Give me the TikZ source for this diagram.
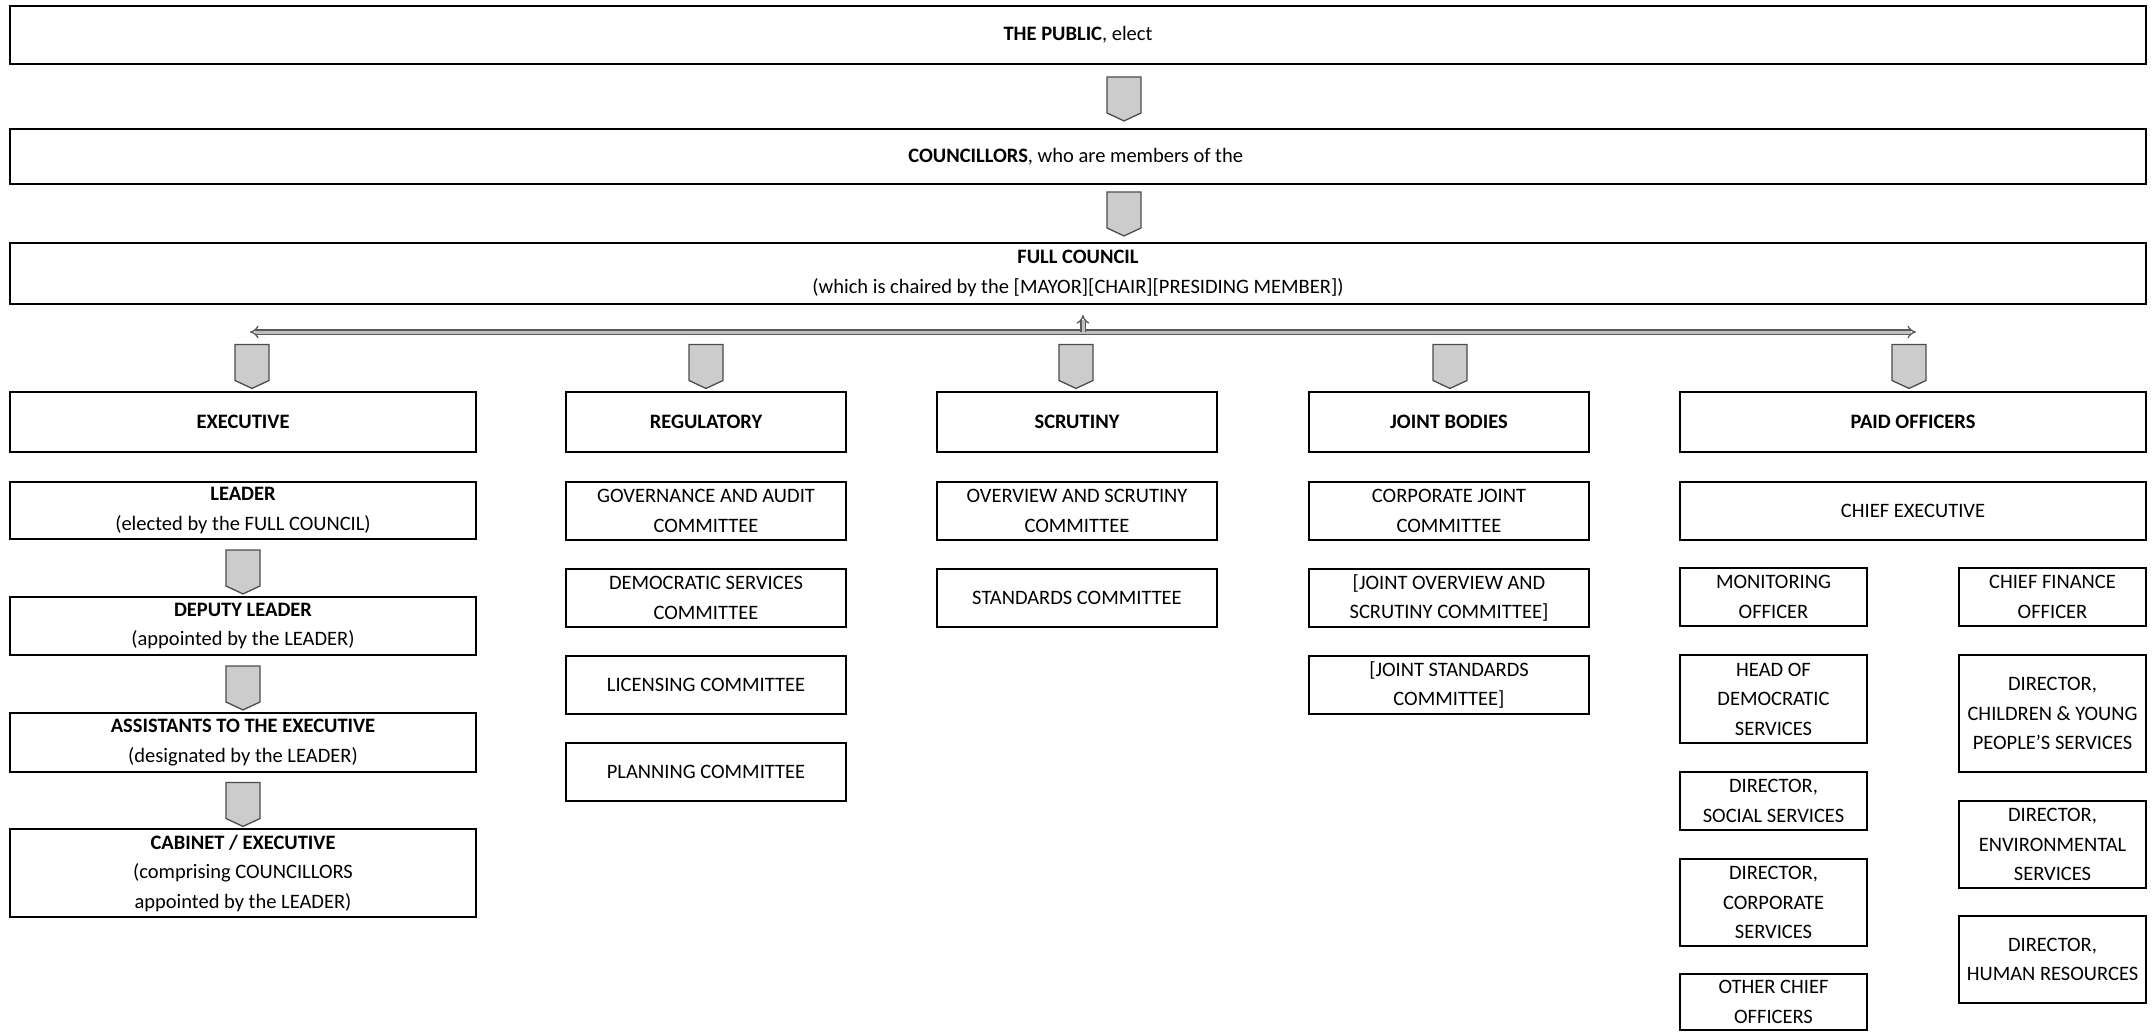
\documentclass[tikz,border=0pt]{standalone}
\usepackage{fontspec}
\setmainfont{Carlito}
\usetikzlibrary{arrows.meta, shapes.symbols, positioning, calc}

\begin{document}
\begin{tikzpicture}[
            x=1pt, y=-1pt,
                base/.style = {rectangle, draw=black, align=center, inner sep=2pt,
                            outer sep=0pt, font=\fontsize{20.5}{29.5}\selectfont},
                topbox/.style = {base, line width=2.6pt, minimum width=2136pt,
                            minimum height=58pt},
                headbox/.style = {base, line width=2.6pt, minimum height=60pt,
                            font=\fontsize{20.5}{29.5}\selectfont\bfseries},
                subbox/.style = {base, line width=1.4pt, minimum height=58pt},
                wide/.style = {minimum width=466pt},
                mid/.style = {minimum width=280pt},
                half/.style = {minimum width=187pt},
                chevron/.style = {signal, signal to=south, signal pointer angle=130,
                            draw=black!70, fill=black!20, line width=1.3pt,
                            minimum width=34pt, minimum height=36pt, inner sep=0pt},
                bus/.style = {draw=black!65, line width=1.3pt, double=black!25,
                            double distance=3pt},
            node distance=29pt]
            \useasboundingbox (0,0) rectangle (2154,1032);
            % top of the chain
            \node (public) [topbox] at (1078,35) {\textbf{THE PUBLIC}, elect};
            \node (councillors) [topbox, minimum height=55pt, below=65pt of public] {
                \textbf{COUNCILLORS}, who are members of the
            };
            \node (council) [topbox, minimum height=61pt, below=59pt of councillors] {
                \textbf{FULL COUNCIL}\\(which is chaired by the [MAYOR][CHAIR][PRESIDING MEMBER])
            };
            \node (arrPublic) [chevron] at (1124,95) {};
            \node (arrCouncillors) [chevron] at (1124,210) {};
            % the five branches
            \node (executive) [headbox, wide] at (243,422) {EXECUTIVE};
            \node (regulatory) [headbox, mid] at (706,422) {REGULATORY};
            \node (scrutiny) [headbox, mid] at (1077,422) {SCRUTINY};
            \node (joint) [headbox, mid] at (1449,422) {JOINT BODIES};
            \node (paid) [headbox, wide] at (1913,422) {PAID OFFICERS};
            \foreach \x in {252,706,1076,1450,1909}
                \node [chevron] at (\x,362.5) {};
            \coordinate (busLeft) at (250,332);
            \coordinate (busRight) at (1916,332);
            \coordinate (busMid) at ($(busLeft)!0.5!(busRight)$);
            \draw[bus, {Implies}-{Implies}] (busLeft) -- (busRight);
            \draw[bus, -{Implies}, shorten >=11pt] (busMid) -- (busMid |- council.south);
            % executive
            \node (leader) [subbox, wide, minimum height=57pt, below=30pt of executive] {
                \textbf{LEADER}\\(elected by the FULL COUNCIL)
            };
            \node (deputy) [subbox, wide, below=58pt of leader] {
                \textbf{DEPUTY LEADER}\\(appointed by the LEADER)
            };
            \node (assistants) [subbox, wide, minimum height=59pt, below=58pt of deputy] {
                \textbf{ASSISTANTS TO THE EXECUTIVE}\\(designated by the LEADER)
            };
            \node (cabinet) [subbox, wide, minimum height=88pt, below=57pt of assistants] {
                \textbf{CABINET / EXECUTIVE}\\(comprising COUNCILLORS\\appointed by the LEADER)
            };
            \node [chevron] at ($(leader.south)!0.5!(deputy.north)$) {};
            \node [chevron] at ($(deputy.south)!0.5!(assistants.north)$) {};
            \node [chevron] at ($(assistants.south)!0.5!(cabinet.north)$) {};
            % regulatory
            \node (governance) [subbox, mid, below=30pt of regulatory] {GOVERNANCE AND AUDIT\\COMMITTEE};
            \node (democratic) [subbox, mid, below=of governance] {DEMOCRATIC SERVICES\\COMMITTEE};
            \node (licensing) [subbox, mid, below=of democratic] {LICENSING COMMITTEE};
            \node (planning) [subbox, mid, below=of licensing] {PLANNING COMMITTEE};
            % scrutiny
            \node (overview) [subbox, mid, below=30pt of scrutiny] {OVERVIEW AND SCRUTINY\\COMMITTEE};
            \node (standards) [subbox, mid, below=of overview] {STANDARDS COMMITTEE};
            % joint bodies
            \node (corpJoint) [subbox, mid, below=30pt of joint] {CORPORATE JOINT\\COMMITTEE};
            \node (jointOverview) [subbox, mid, below=of corpJoint] {[JOINT OVERVIEW AND\\SCRUTINY COMMITTEE]};
            \node (jointStandards) [subbox, mid, below=of jointOverview] {[JOINT STANDARDS\\COMMITTEE]};
            % paid officers
            \node (chiefExec) [subbox, wide, below=30pt of paid] {CHIEF EXECUTIVE};
            \node (monitoring) [subbox, half, below right=28pt and 0pt of chiefExec.south west] {
                MONITORING\\OFFICER
            };
            \node (headDem) [subbox, half, minimum height=88pt, below=of monitoring] {
                HEAD OF\\DEMOCRATIC\\SERVICES
            };
            \node (social) [subbox, half, below=of headDem] {DIRECTOR,\\SOCIAL SERVICES};
            \node (corporate) [subbox, half, minimum height=87pt, below=of social] {
                DIRECTOR,\\CORPORATE\\SERVICES
            };
            \node (otherChief) [subbox, half, minimum height=56pt, below=28pt of corporate] {
                OTHER CHIEF\\OFFICERS
            };
            \node (finance) [subbox, half, below left=28pt and 0pt of chiefExec.south east] {
                CHIEF FINANCE\\OFFICER
            };
            \node (children) [subbox, half, minimum height=117pt, below=of finance] {
                DIRECTOR,\\CHILDREN \& YOUNG\\PEOPLE'S SERVICES
            };
            \node (environmental) [subbox, half, minimum height=87pt, below=of children] {
                DIRECTOR,\\ENVIRONMENTAL\\SERVICES
            };
            \node (humanRes) [subbox, half, minimum height=87pt, below=28pt of environmental] {
                DIRECTOR,\\HUMAN RESOURCES
            };
        \end{tikzpicture}
\end{document}
